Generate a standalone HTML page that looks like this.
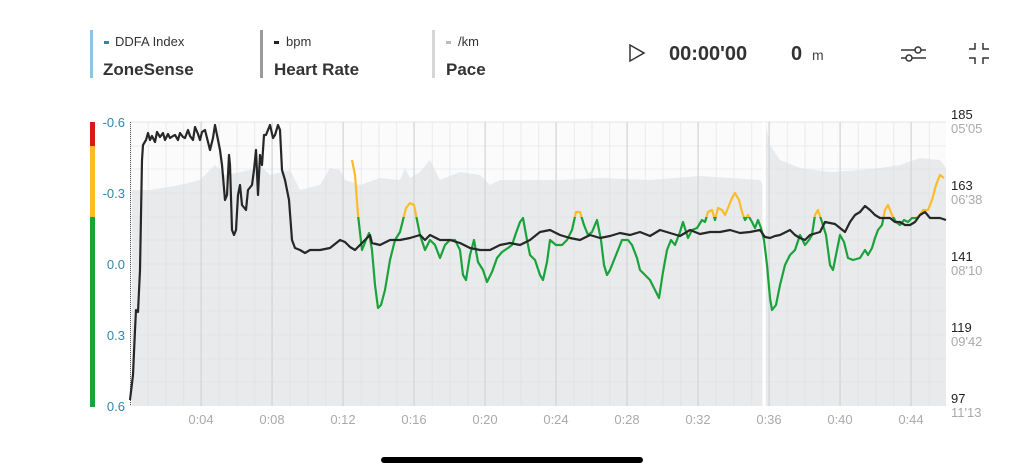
<!DOCTYPE html>
<html><head><meta charset="utf-8"><style>
body{margin:0;width:1024px;height:472px;background:#fff;font-family:"Liberation Sans",sans-serif;overflow:hidden;position:relative}
</style></head><body>
<svg width="1024" height="472" style="position:absolute;left:0;top:0" font-family="Liberation Sans, sans-serif">
<defs>
<clipPath id="yel"><rect x="0" y="0" width="1024" height="217"/></clipPath>
<clipPath id="grn"><rect x="0" y="217" width="1024" height="300"/></clipPath>
<pattern id="minor" x="130" y="0" width="17.75" height="472" patternUnits="userSpaceOnUse"><line x1="0.5" y1="0" x2="0.5" y2="472" stroke="#dcdde0" stroke-width="1"/></pattern>
<polyline id="z" fill="none" stroke-width="2.2" stroke-linejoin="round" points="352,160 355,175 358,215 362,250 366,240 369,233 372,250 375,285 378,308 381,305 385,290 390,260 395,240 400,232 403,220 406,208 410,203 414,205 417,220 420,235 425,250 430,240 435,245 440,258 445,245 450,240 455,240 460,250 463,275 466,280 470,255 474,240 478,262 483,270 487,282 492,272 497,258 502,252 508,248 512,245 516,233 520,222 523,218 527,240 530,255 535,260 540,275 543,280 547,262 550,240 556,245 562,245 567,240 572,230 576,212 580,212 584,225 588,235 592,232 597,220 601,240 604,265 607,275 610,270 614,260 618,250 622,240 628,240 632,245 637,258 640,270 645,275 650,280 655,290 659,298 663,272 667,250 671,240 675,245 680,232 683,222 688,238 692,230 697,228 702,220 705,222 708,212 712,210 715,220 718,208 722,210 725,215 728,208 732,198 735,193 739,200 742,212 745,220 748,215 752,222 755,228 758,220 761,228 764,240 767,265 770,298 772,310 776,305 780,285 785,265 790,255 795,250 800,235 805,245 809,240 812,235 815,215 818,210 822,222 826,235 830,265 833,270 836,255 840,235 844,242 848,258 853,260 860,258 865,250 868,255 872,248 875,238 878,230 882,225 885,210 888,205 892,215 896,222 900,225 904,220 908,222 912,218 916,218 920,215 923,210 928,210 932,200 936,185 940,175 944,178"/>
</defs>
<rect x="90" y="30" width="3" height="48" fill="#8fc4dc"/>
<rect x="260" y="30" width="3" height="48" fill="#9a9a9a"/>
<rect x="432" y="30" width="3" height="48" fill="#d6d6d8"/>
<rect x="104" y="41" width="5" height="3" fill="#2f86b0"/>
<rect x="274" y="41" width="5" height="3" fill="#222"/>
<rect x="446" y="41" width="5" height="3" fill="#bbb"/>
<text x="115" y="46" font-size="13" fill="#333">DDFA Index</text>
<text x="286" y="46" font-size="13" fill="#333">bpm</text>
<text x="458" y="46" font-size="13" fill="#333">/km</text>
<text x="103" y="75" font-size="17" font-weight="bold" fill="#333">ZoneSense</text>
<text x="274" y="75" font-size="17" font-weight="bold" fill="#333">Heart Rate</text>
<text x="446" y="75" font-size="17" font-weight="bold" fill="#333">Pace</text>
<path d="M630 45 L644 53 L630 61 Z" fill="none" stroke="#333" stroke-width="1.5"/>
<text x="669" y="60" font-size="20" font-weight="bold" fill="#333">00:00'00</text>
<text x="791" y="60" font-size="20" font-weight="bold" fill="#333">0</text>
<text x="812" y="60" font-size="14" fill="#444">m</text>
<g stroke="#333" stroke-width="1.5" fill="none">
<line x1="901" y1="50" x2="926" y2="50"/><circle cx="918" cy="50" r="3" fill="#fff"/>
<line x1="901" y1="58" x2="926" y2="58"/><circle cx="909" cy="58" r="3" fill="#fff"/>
<path d="M975 43 V49 H969 M983 43 V49 H989 M969 58 H975 V64 M989 58 H983 V64"/>
</g>
<rect x="130" y="122" width="816" height="284" fill="#fbfbfc"/>
<path d="M132 406 L132 190 L150 190 L180 185 L200 180 L210 170 L215 165 L225 175 L250 170 L260 165 L270 175 L290 170 L295 180 L300 190 L320 185 L330 168 L340 170 L345 180 L360 185 L380 178 L400 180 L405 168 L410 178 L420 172 L430 160 L440 180 L460 172 L480 175 L490 185 L500 180 L560 180 L600 178 L650 180 L700 176 L760 180 L763 185 L763 406 Z" fill="#e9eaec"/>
<path d="M766 406 L766 125 L770 145 L780 160 L800 168 L830 172 L860 170 L880 168 L900 165 L920 158 L940 160 L946 168 L946 406 Z" fill="#e9eaec"/>
<rect x="130" y="122" width="816" height="284" fill="url(#minor)" opacity="0.55"/>
<g stroke="#dcdde0" stroke-width="0.6">
<line x1="130" y1="146" x2="946" y2="146"/><line x1="130" y1="169" x2="946" y2="169"/><line x1="130" y1="193" x2="946" y2="193"/><line x1="130" y1="217" x2="946" y2="217"/><line x1="130" y1="240" x2="946" y2="240"/><line x1="130" y1="264" x2="946" y2="264"/><line x1="130" y1="288" x2="946" y2="288"/><line x1="130" y1="311" x2="946" y2="311"/><line x1="130" y1="335" x2="946" y2="335"/><line x1="130" y1="359" x2="946" y2="359"/><line x1="130" y1="382" x2="946" y2="382"/>
</g>
<line x1="130" y1="122" x2="946" y2="122" stroke="#e4e4e6"/>
<g stroke="#d2d3d6" stroke-width="1">
<line x1="201" y1="122" x2="201" y2="406"/><line x1="272" y1="122" x2="272" y2="406"/><line x1="343" y1="122" x2="343" y2="406"/><line x1="414" y1="122" x2="414" y2="406"/><line x1="485" y1="122" x2="485" y2="406"/><line x1="556" y1="122" x2="556" y2="406"/><line x1="627" y1="122" x2="627" y2="406"/><line x1="698" y1="122" x2="698" y2="406"/><line x1="769" y1="122" x2="769" y2="406"/><line x1="840" y1="122" x2="840" y2="406"/><line x1="911" y1="122" x2="911" y2="406"/>
</g>
<rect x="762.5" y="122" width="2.5" height="284" fill="#fff"/>
<line x1="130.5" y1="122" x2="130.5" y2="406" stroke="#555" stroke-dasharray="1 1"/>
<rect x="90" y="122" width="5" height="24" fill="#d7191c"/>
<rect x="90" y="146" width="5" height="71" fill="#fbbc2a"/>
<rect x="90" y="217" width="5" height="190" fill="#19a33a"/>
<g font-size="13" fill="#2f86b0" text-anchor="end">
<text x="125" y="127">-0.6</text><text x="125" y="198">-0.3</text><text x="125" y="269">0.0</text><text x="125" y="340">0.3</text><text x="125" y="411">0.6</text>
</g>
<g font-size="13">
<text x="951" y="119" fill="#222">185</text><text x="951" y="133" fill="#aaa">05'05</text>
<text x="951" y="190" fill="#222">163</text><text x="951" y="204" fill="#aaa">06'38</text>
<text x="951" y="261" fill="#222">141</text><text x="951" y="275" fill="#aaa">08'10</text>
<text x="951" y="332" fill="#222">119</text><text x="951" y="346" fill="#aaa">09'42</text>
<text x="951" y="403" fill="#222">97</text><text x="951" y="417" fill="#aaa">11'13</text>
</g>
<g font-size="13" fill="#aaa" text-anchor="middle">
<text x="201" y="424">0:04</text><text x="272" y="424">0:08</text><text x="343" y="424">0:12</text><text x="414" y="424">0:16</text><text x="485" y="424">0:20</text><text x="556" y="424">0:24</text><text x="627" y="424">0:28</text><text x="698" y="424">0:32</text><text x="769" y="424">0:36</text><text x="840" y="424">0:40</text><text x="911" y="424">0:44</text>
</g>
<use href="#z" clip-path="url(#yel)" stroke="#fbbc2a"/>
<use href="#z" clip-path="url(#grn)" stroke="#19a33a"/>
<polyline fill="none" stroke="#272727" stroke-width="2.2" stroke-linejoin="round" points="130,400 133,375 135,330 136,310 138,312 140,270 142,160 143,145 146,140 148,133 150,140 152,136 155,142 157,132 160,137 163,133 165,140 168,134 170,138 173,136 175,135 178,140 180,133 183,137 185,138 188,130 190,136 193,140 195,127 198,134 200,140 202,132 205,130 208,142 210,150 213,138 215,125 218,140 220,150 222,165 225,200 227,195 229,155 230,165 232,230 234,235 236,230 238,195 240,185 242,205 246,210 248,190 252,185 254,170 256,150 258,195 260,155 262,165 264,135 266,135 270,125 273,138 275,135 278,125 280,130 282,170 285,180 289,200 292,240 295,248 300,250 305,253 310,250 320,250 330,248 340,240 345,242 350,247 355,250 360,245 365,240 370,235 372,243 380,245 390,240 400,240 410,238 420,235 425,240 430,235 440,240 450,240 460,243 470,248 480,250 490,250 500,245 510,243 520,245 530,240 540,232 550,230 560,235 570,238 580,240 590,235 600,238 610,236 620,233 630,235 640,232 650,236 660,230 670,233 680,236 690,230 700,234 710,232 720,232 730,230 740,233 750,232 760,230 765,237 770,238 775,236 780,235 790,230 795,235 800,238 805,240 810,235 820,232 825,222 830,223 835,224 840,228 845,232 850,222 855,215 860,212 865,206 870,210 875,215 880,218 890,218 895,222 900,222 905,225 910,225 915,222 920,215 925,212 930,218 940,218 946,220"/>
<rect x="381" y="457" width="262" height="6" rx="3" fill="#000"/>
</svg>
</body></html>
